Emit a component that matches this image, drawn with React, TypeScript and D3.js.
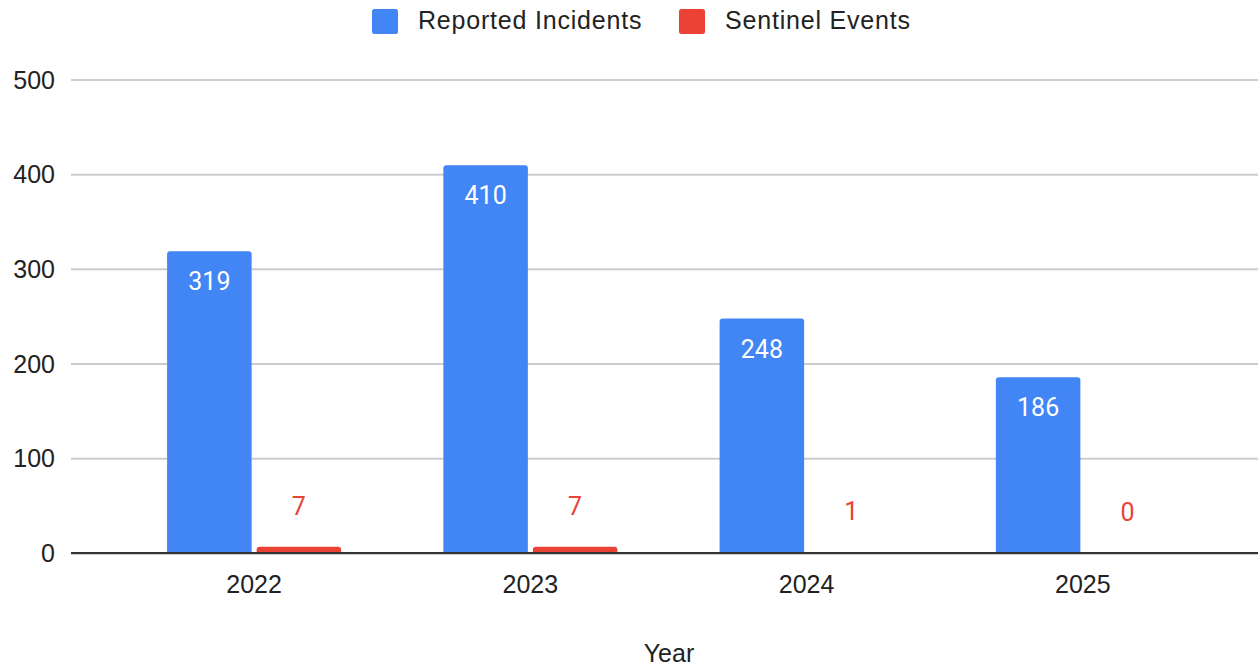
import React from "react";
import * as d3 from "d3";

const years = ["2022", "2023", "2024", "2025"];
const reportedIncidents = [319, 410, 248, 186];
const sentinelEvents = [7, 7, 1, 0];
const seriesNames = ["Reported Incidents", "Sentinel Events"];
const seriesColors = ["#4285F4", "#EA4335"];
const yTicks = [0, 100, 200, 300, 400, 500];
const xAxisTitle = "Year";

const W = 1258;
const H = 665;
const axisFont = "'Liberation Sans', Arial, sans-serif";
const labelFont = "Roboto, 'Noto Sans', sans-serif";

// bar with rounded top corners
function topRoundedRect(x: number, y: number, w: number, h: number, r: number) {
  if (h <= 0) return "";
  const rr = Math.min(r, h, w / 2);
  return `M${x},${y + h}V${y + rr}Q${x},${y} ${x + rr},${y}H${x + w - rr}Q${x + w},${y} ${x + w},${y + rr}V${y + h}Z`;
}

export default function App() {
  const y = d3.scaleLinear().domain([0, 500]).range([553.3, 80]);
  const x0 = d3
    .scaleBand<string>()
    .domain(years)
    .range([116, 1221])
    .paddingInner(0.37)
    .paddingOuter(0.185);
  const x1 = d3
    .scaleBand<string>()
    .domain(seriesNames)
    .range([0, x0.bandwidth()])
    .paddingInner(0.056);

  const series = [reportedIncidents, sentinelEvents];
  const gridLeft = 71;
  const gridRight = W;

  const legendItems = [
    { name: seriesNames[0], color: seriesColors[0], sx: 372, tx: 418 },
    { name: seriesNames[1], color: seriesColors[1], sx: 679, tx: 725 },
  ];

  return (
    <svg
      width={W}
      height={H}
      style={{ position: "absolute", left: 0, top: 0, background: "#fff" }}
    >
      {/* legend */}
      {legendItems.map((it) => (
        <g key={it.name}>
          <rect x={it.sx} y={9} width={26} height={25} rx={2.5} fill={it.color} />
          <text
            x={it.tx}
            y={28.5}
            fontFamily={axisFont}
            fontSize={25}
            letterSpacing={0.8}
            fill="#222"
          >
            {it.name}
          </text>
        </g>
      ))}

      {/* gridlines and y tick labels */}
      {yTicks.map((t) => (
        <g key={t}>
          {t !== 0 && (
            <line
              x1={gridLeft}
              x2={gridRight}
              y1={y(t)}
              y2={y(t)}
              stroke="#cccccc"
              strokeWidth={2}
            />
          )}
          <text
            x={55}
            y={y(t)}
            dy="0.35em"
            textAnchor="end"
            fontFamily={axisFont}
            fontSize={25}
            fill="#222"
          >
            {t}
          </text>
        </g>
      ))}

      {/* bars */}
      {years.map((yr, i) => (
        <g key={yr} transform={`translate(${x0(yr)},0)`}>
          {series.map((vals, s) => {
            const v = vals[i];
            const bx = x1(seriesNames[s])!;
            const bw = x1.bandwidth();
            const top = y(v);
            const h = y(0) - top;
            return (
              <g key={s}>
                <path d={topRoundedRect(bx, top, bw, h, 3)} fill={seriesColors[s]} />
                {s === 0 ? (
                  <text
                    x={bx + bw / 2}
                    y={top + 39}
                    textAnchor="middle"
                    fontFamily={labelFont}
                    fontSize={25}
                    fill="#ffffff"
                  >
                    {v}
                  </text>
                ) : (
                  <text
                    x={bx + bw / 2}
                    y={top - 32}
                    textAnchor="middle"
                    fontFamily={labelFont}
                    fontSize={25}
                    fill={seriesColors[1]}
                  >
                    {v}
                  </text>
                )}
              </g>
            );
          })}
        </g>
      ))}

      {/* baseline */}
      <line
        x1={gridLeft}
        x2={gridRight}
        y1={y(0) - 0.2}
        y2={y(0) - 0.2}
        stroke="#333333"
        strokeWidth={2.4}
      />

      {/* x tick labels */}
      {years.map((yr) => (
        <text
          key={yr}
          x={x0(yr)! + x0.bandwidth() / 2}
          y={593}
          textAnchor="middle"
          fontFamily={axisFont}
          fontSize={25}
          fill="#222"
        >
          {yr}
        </text>
      ))}

      {/* x axis title */}
      <text
        x={669}
        y={661.5}
        textAnchor="middle"
        fontFamily={axisFont}
        fontSize={25}
        fill="#222"
      >
        {xAxisTitle}
      </text>
    </svg>
  );
}
